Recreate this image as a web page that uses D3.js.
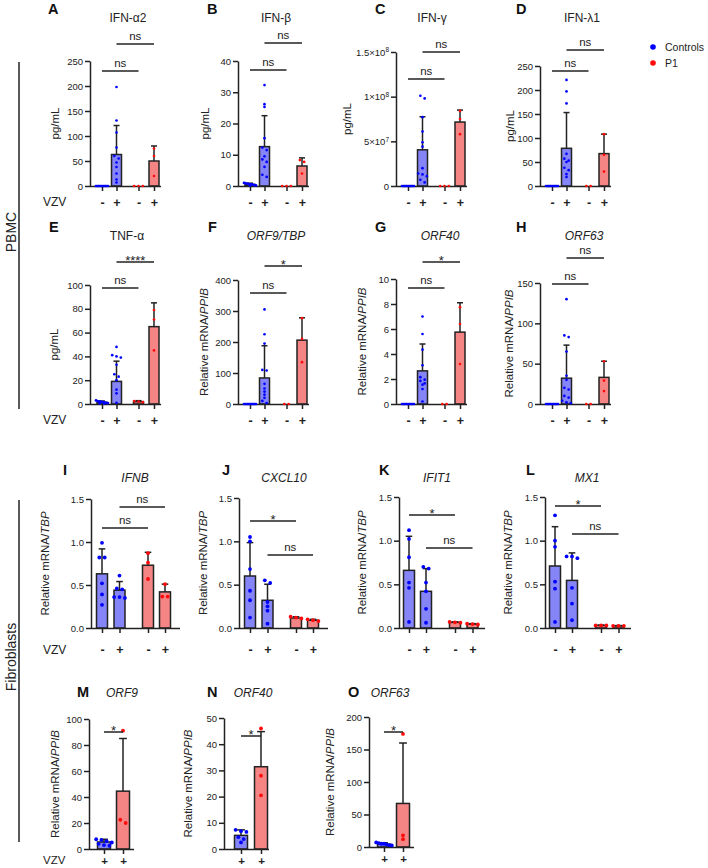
<!DOCTYPE html>
<html><head><meta charset="utf-8">
<script src="https://cdn.jsdelivr.net/npm/d3@7"></script>
<style>
body{margin:0;background:#fff;}
svg{display:block;font-family:"Liberation Sans",Arial,Helvetica,sans-serif;}
</style></head><body>
<svg id="chart" width="708" height="868"></svg>
<script>
// ================= DATA =================
const seriesNames = ["Controls", "P1"];
const vzvFour = ["-", "+", "-", "+"];
const vzvTwo = ["+", "+"];
const seriesFour = [0, 0, 1, 1];
const seriesTwo = [0, 1];

const panelLetters = ["A","B","C","D","E","F","G","H","I","J","K","L","M","N","O"];
const titles = ["IFN-α2","IFN-β","IFN-γ","IFN-λ1","TNF-α","ORF9/TBP","ORF40","ORF63",
                "IFNB","CXCL10","IFIT1","MX1","ORF9","ORF40","ORF63"];
const titleItalic = [false,false,false,false,false,true,true,true,true,true,true,true,true,true,true];
// "" => pg/mL, otherwise Relative mRNA/<ref>
const yRef = ["","","","","","PPIB","PPIB","PPIB","TBP","TBP","TBP","TBP","PPIB","PPIB","PPIB"];

const ticksA = [0,50,100,150,200,250];
const ticksB = [0,10,20,30,40];
const ticksC = [0,5e7,1e8,1.5e8];
const ticksD = [0,50,100,150,200,250];
const ticksE = [0,20,40,60,80,100];
const ticksF = [0,100,200,300,400];
const ticksG = [0,2,4,6,8,10];
const ticksH = [0,50,100,150];
const ticksIL = [0,0.5,1.0,1.5];
const ticksM = [0,20,40,60,80,100];
const ticksN = [0,10,20,30,40,50];
const ticksO = [0,50,100,150,200];

// points per group: [Controls -, Controls +, P1 -, P1 +]
const ptsA = [[0,0,0,0,0,0,0,0,0,0,0],[198,131,107,77,60,55,47,38,25,13,7],[0,0,0],[75,60,20]];
const meanA = [0,63,0,50];   const errA = [0,121,0,80];
const ptsB = [[0.2,0.5,0.8,1.0,0.3,0.6,0.1,0.4,0.7,0.9,0.5],[32.3,26.2,25.3,15.3,12.3,11.5,9.5,8.5,7.7,6.1,3.6,2.9],[0,0,0],[8.3,7.7,4.0]];
const meanB = [0.5,12.6,0,6.4]; const errB = [0.9,22.5,0,9];
const ptsC = [[0,0,0,0,0,0,0,0,0,0,0],[101e6,98e6,77e6,61e6,49e6,44e6,20e6,14e6,13e6,11e6,7e6,4e6],[0,0,0],[84e6,75e6,58e6]];
const meanC = [0,40.5e6,0,71.6e6]; const errC = [0,77.5e6,0,85e6];
const ptsD = [[0,0,0,0,0,0,0,0,0,0,0],[221,197,172,67,57,53,50,38,33,25,19],[0,0],[108,65,30]];
const meanD = [0,78.5,0,67.5]; const errD = [0,153,0,108];
const ptsE = [[3,2.5,2,1.5,1,0.8,0.5,1.2,2.2,0.3,1.8],[48,41,40,39,33,25,23,20,12,9,1],[2.5,2,1.5],[79,71,45]];
const meanE = [1.4,19,2,65]; const errE = [2.5,36,2.8,85];
const ptsF = [[0,0,0,0,0,0,0,0,0,0,0],[305,225,195,110,108,65,50,40,30,20,10,3],[0,0],[277,210,135]];
const meanF = [0,84,0,206]; const errF = [0,188,0,278];
const ptsG = [[0,0,0,0,0,0,0,0,0,0,0],[7.0,5.6,4.35,3.1,2.15,1.95,1.85,1.65,1.55,1.2,0.2],[0,0],[7.75,6.4,3.2]];
const meanG = [0,2.65,0,5.75]; const errG = [0,4.8,0,8.1];
const ptsH = [[0,0,0,0,0,0,0,0,0,0,0],[130,85,83,65,35,30,20,18,10,8,4,2,1],[0,0],[53,29,16]];
const meanH = [0,32,0,33]; const errH = [0,73,0,53];
const ptsI = [[0.99,0.82,0.82,0.52,0.39,0.27],[0.61,0.46,0.45,0.36,0.36,0.35],[0.87,0.76,0.57],[0.51,0.365,0.365]];
const meanI = [0.63,0.44,0.73,0.42]; const errI = [0.92,0.54,0.88,0.51];
const ptsJ = [[1.05,1.0,0.68,0.43,0.32,0.12],[0.55,0.52,0.30,0.25,0.20,0.05],[0.13,0.12,0.11],[0.10,0.09,0.08]];
const meanJ = [0.6,0.32,0.115,0.09]; const errJ = [0.985,0.505,0.13,0.10];
const ptsK = [[1.12,1.02,0.81,0.52,0.46,0.07],[0.70,0.68,0.52,0.42,0.22,0.06],[0.07,0.065,0.06],[0.05,0.045,0.04]];
const meanK = [0.66,0.42,0.065,0.045]; const errK = [1.05,0.68,0.07,0.05];
const ptsL = [[1.29,1.0,0.93,0.53,0.45,0.07],[0.82,0.82,0.80,0.46,0.28,0.09],[0.03,0.03,0.03],[0.025,0.025,0.025]];
const meanL = [0.71,0.545,0.03,0.025]; const errL = [1.16,0.86,0.033,0.028];
// two groups: [Controls +, P1 +]
const ptsM = [[7.5,7,6,5,4,3,2.5],[91,22.5,20]];
const meanM = [5.4,44.5]; const errM = [7.5,85];
const ptsN = [[7.3,6.8,6.5,4.5,3.8,2.5],[46,28,20.5]];
const meanN = [5.2,31.4]; const errN = [7.3,44.8];
const ptsO = [[7,6,5,5,4,3,2.5],[174,18,12]];
const meanO = [4.5,67]; const errO = [6.5,160];

// significance labels: four-group panels compare [C-,P1-] and [C+,P1+]
const sigA = ["ns","ns"], sigB = ["ns","ns"], sigC = ["ns","ns"], sigD = ["ns","ns"];
const sigE = ["ns","****"], sigF = ["ns","*"], sigG = ["ns","*"], sigH = ["ns","ns"];
const sigI = ["ns","ns"], sigJ = ["*","ns"], sigK = ["*","ns"], sigL = ["*","ns"];
const sigM = ["*"], sigN = ["*"], sigO = ["*"];

const allPts = [ptsA,ptsB,ptsC,ptsD,ptsE,ptsF,ptsG,ptsH,ptsI,ptsJ,ptsK,ptsL,ptsM,ptsN,ptsO];
const allMean = [meanA,meanB,meanC,meanD,meanE,meanF,meanG,meanH,meanI,meanJ,meanK,meanL,meanM,meanN,meanO];
const allErr = [errA,errB,errC,errD,errE,errF,errG,errH,errI,errJ,errK,errL,errM,errN,errO];
const allTicks = [ticksA,ticksB,ticksC,ticksD,ticksE,ticksF,ticksG,ticksH,ticksIL,ticksIL,ticksIL,ticksIL,ticksM,ticksN,ticksO];
const allSig = [sigA,sigB,sigC,sigD,sigE,sigF,sigG,sigH,sigI,sigJ,sigK,sigL,sigM,sigN,sigO];

// ================= LAYOUT =================
const rowStyle = [
  {offs:[12,26.5,48.5,64], len:71, bw:10, r:1.35, titleY:22, letterY:14, tickPad:7, vzvY:206, labFs:12.5},
  {offs:[12,26.5,48.5,64], len:71, bw:10, r:1.35, titleY:240, letterY:232, tickPad:7, vzvY:424, labFs:12.5},
  {offs:[11,28.5,57,74], len:89, bw:11, r:1.9, titleY:482, letterY:475, tickPad:12, vzvY:654, labFs:12.5},
  {offs:[15,34], len:45, bw:13, r:1.9, titleY:697, letterY:697, tickPad:3, vzvY:864, labFs:11.5}
];
const layout = [
  {x0:90, yTop:61, yBot:186, row:0, titleX:128, letterX:48, yLabX:55, br:[71,44]},
  {x0:238, yTop:61, yBot:186, row:0, titleX:276, letterX:207, yLabX:205, br:[70,43]},
  {x0:396, yTop:52, yBot:186, row:0, titleX:432, letterX:375, yLabX:347, br:[79,52]},
  {x0:540, yTop:66, yBot:186, row:0, titleX:582, letterX:516, yLabX:510, br:[71,50]},
  {x0:90, yTop:285, yBot:404, row:1, titleX:127, letterX:49, yLabX:54, br:[288,262]},
  {x0:238, yTop:280, yBot:404, row:1, titleX:276, letterX:208, yLabX:204, br:[293,266]},
  {x0:396, yTop:279, yBot:404, row:1, titleX:440, letterX:375, yLabX:362, br:[288,262]},
  {x0:540, yTop:283, yBot:404, row:1, titleX:584, letterX:516, yLabX:509, br:[284,258]},
  {x0:91, yTop:499, yBot:628, row:2, titleX:135, letterX:63, yLabX:45, br:[528,507]},
  {x0:239, yTop:498, yBot:628, row:2, titleX:284, letterX:222, yLabX:203, br:[521,555]},
  {x0:399, yTop:497, yBot:628, row:2, titleX:437, letterX:379, yLabX:362, br:[515,548], offs:[10,27,56,73.5], len:86},
  {x0:545, yTop:497, yBot:628, row:2, titleX:587, letterX:526, yLabX:508, br:[506,534], offs:[10,27,56,73.5], len:86},
  {x0:89, yTop:719, yBot:849, row:3, titleX:122, letterX:77, yLabX:55, br:[732]},
  {x0:224, yTop:718, yBot:849, row:3, titleX:253, letterX:207, yLabX:188, br:[736], offs:[17,37]},
  {x0:369, yTop:717, yBot:847, row:3, titleX:390, letterX:348, yLabX:330, br:[732]}
];

const INK = "#222";
const fillCol = ["#8585f7", "#f58585"];
const dotCol = ["#0000ff", "#ff0a0a"];

const svg = d3.select("#chart");

function layoutDots(vals, y, cx, r, maxW) {
  const arr = vals.map(v => ({v, py: y(v)})).sort((a,b) => a.py - b.py);
  const bins = [];
  arr.forEach(p => {
    const b = bins[bins.length-1];
    if (b && p.py - b[0].py < 2*r) b.push(p); else bins.push([p]);
  });
  bins.forEach(b => {
    const n = b.length;
    const sp = n > 1 ? Math.min(2*r + 1.6, maxW/(n-1)) : 0;
    b.forEach((p,i) => { p.x = cx + (i - (n-1)/2) * sp; });
  });
  return arr;
}

layout.forEach((L, pi) => {
  const rs = rowStyle[L.row];
  const offs = L.offs || rs.offs;
  const len = L.len || rs.len;
  const four = offs.length === 4;
  const labels = four ? vzvFour : vzvTwo;
  const ser = four ? seriesFour : seriesTwo;
  const ticks = allTicks[pi];
  const g = svg.append("g");

  const y = d3.scaleLinear().domain([0, d3.max(ticks)]).range([L.yBot, L.yTop]);
  const idx = d3.range(offs.length);
  const x = d3.scaleOrdinal().domain(idx).range(offs.map(o => L.x0 + o));

  // bars
  g.selectAll("rect.bar").data(idx).join("rect")
    .attr("x", i => x(i) - rs.bw/2).attr("width", rs.bw)
    .attr("y", i => y(allMean[pi][i])).attr("height", i => L.yBot - y(allMean[pi][i]))
    .attr("fill", i => fillCol[ser[i]]).attr("stroke", INK).attr("stroke-width", 1.5);

  // error bars
  idx.forEach(i => {
    const m = allMean[pi][i], e = allErr[pi][i];
    if (e > m) {
      g.append("line").attr("x1", x(i)).attr("x2", x(i))
        .attr("y1", y(m)).attr("y2", y(e)).attr("stroke", INK).attr("stroke-width", 1.5);
      g.append("line").attr("x1", x(i) - rs.bw*0.3).attr("x2", x(i) + rs.bw*0.3)
        .attr("y1", y(e)).attr("y2", y(e)).attr("stroke", INK).attr("stroke-width", 1.5);
    }
  });

  // y axis
  const yAx = d3.axisLeft(y).tickValues(ticks).tickSize(5).tickSizeOuter(0).tickPadding(2);
  if (pi === 2) yAx.tickFormat(() => "");
  else if (ticks === ticksIL) yAx.tickFormat(d3.format(".1f"));
  else yAx.tickFormat(d3.format("~g"));
  const ya = g.append("g").attr("transform", `translate(${L.x0},0)`).call(yAx);
  ya.selectAll("path,line").attr("stroke", INK).attr("stroke-width", 1.5);
  ya.selectAll("text").attr("font-size", 9.5).attr("fill", INK);
  ya.attr("font-family", null);
  if (pi === 2) {
    ya.selectAll(".tick text").each(function(d) {
      const t = d3.select(this);
      if (d === 0) { t.text("0"); return; }
      const e = Math.floor(Math.log10(d) + 1e-9);
      const m = d / Math.pow(10, e);
      t.append("tspan").text(d3.format("~g")(m) + "×10");
      t.append("tspan").attr("dy", "-0.5em").attr("font-size", 6.5).text(e);
    });
  }

  // x axis
  const xAx = d3.axisBottom(x).tickSize(5).tickPadding(rs.tickPad).tickFormat(i => labels[i]);
  const xa = g.append("g").attr("transform", `translate(0,${L.yBot})`).call(xAx);
  xa.select(".domain").remove();
  xa.append("line").attr("x1", L.x0).attr("x2", L.x0 + len).attr("y1", 0.5).attr("y2", 0.5)
    .attr("stroke", INK).attr("stroke-width", 1.5);
  xa.selectAll(".tick line").attr("stroke", INK).attr("stroke-width", 1.5);
  xa.attr("font-family", null);
  xa.selectAll("text").attr("font-size", rs.labFs).attr("font-weight", "bold").attr("fill", INK);

  // points
  idx.forEach(i => {
    const dots = layoutDots(allPts[pi][i], y, x(i), rs.r, rs.bw * 1.2);
    g.selectAll(null).data(dots).join("circle")
      .attr("cx", d => d.x).attr("cy", d => d.py).attr("r", rs.r)
      .attr("fill", dotCol[ser[i]]);
  });

  // significance brackets
  const pairs = four ? [[0,2],[1,3]] : [[0,1]];
  pairs.forEach((pr, k) => {
    const by = L.br[k], lab = allSig[pi][k];
    g.append("line").attr("x1", x(pr[0])).attr("x2", x(pr[1])).attr("y1", by).attr("y2", by)
      .attr("stroke", INK).attr("stroke-width", 1.5);
    const star = lab.indexOf("*") >= 0;
    g.append("text").attr("x", (x(pr[0]) + x(pr[1]))/2).attr("y", star ? by + 2.5 : by - 4)
      .attr("text-anchor", "middle").attr("font-size", star ? 13 : 11.5).attr("fill", INK).text(lab);
  });

  // title
  const tt = g.append("text").attr("x", L.titleX).attr("y", rs.titleY).attr("text-anchor", "middle")
    .attr("font-size", 12).attr("fill", INK).text(titles[pi]);
  if (titleItalic[pi]) tt.attr("font-style", "italic");

  // panel letter
  g.append("text").attr("x", L.letterX).attr("y", rs.letterY).attr("font-size", 14.5)
    .attr("font-weight", "bold").attr("fill", "#111").text(panelLetters[pi]);

  // y label
  const yl = g.append("text")
    .attr("transform", `translate(${L.yLabX},${(L.yTop + L.yBot)/2}) rotate(-90)`)
    .attr("text-anchor", "middle").attr("dy", "0.35em").attr("font-size", 11.5).attr("fill", INK);
  if (yRef[pi] === "") yl.text("pg/mL");
  else {
    yl.append("tspan").text("Relative mRNA/");
    yl.append("tspan").attr("font-style", "italic").text(yRef[pi]);
  }

  // VZV row label
  if (L.x0 < 100) {
    g.append("text").attr("x", 43).attr("y", rs.vzvY).attr("font-size", L.row === 3 ? 11.5 : 12)
      .attr("fill", INK).text("VZV");
  }
});

// legend
seriesNames.forEach((s, i) => {
  svg.append("circle").attr("cx", 653).attr("cy", 47 + i*16).attr("r", 2.8).attr("fill", dotCol[i]);
  svg.append("text").attr("x", 665).attr("y", 47 + i*16 + 4).attr("font-size", 10.5).attr("fill", INK).text(s);
});

// side group labels
svg.append("line").attr("x1", 19).attr("x2", 19).attr("y1", 62).attr("y2", 409).attr("stroke", INK).attr("stroke-width", 1.5);
svg.append("text").attr("transform", "translate(16,232) rotate(-90)").attr("text-anchor", "middle")
  .attr("font-size", 14).attr("fill", INK).text("PBMC");
svg.append("line").attr("x1", 19).attr("x2", 19).attr("y1", 500).attr("y2", 842).attr("stroke", INK).attr("stroke-width", 1.5);
svg.append("text").attr("transform", "translate(16,657) rotate(-90)").attr("text-anchor", "middle")
  .attr("font-size", 14).attr("fill", INK).text("Fibroblasts");
</script>
</body></html>
